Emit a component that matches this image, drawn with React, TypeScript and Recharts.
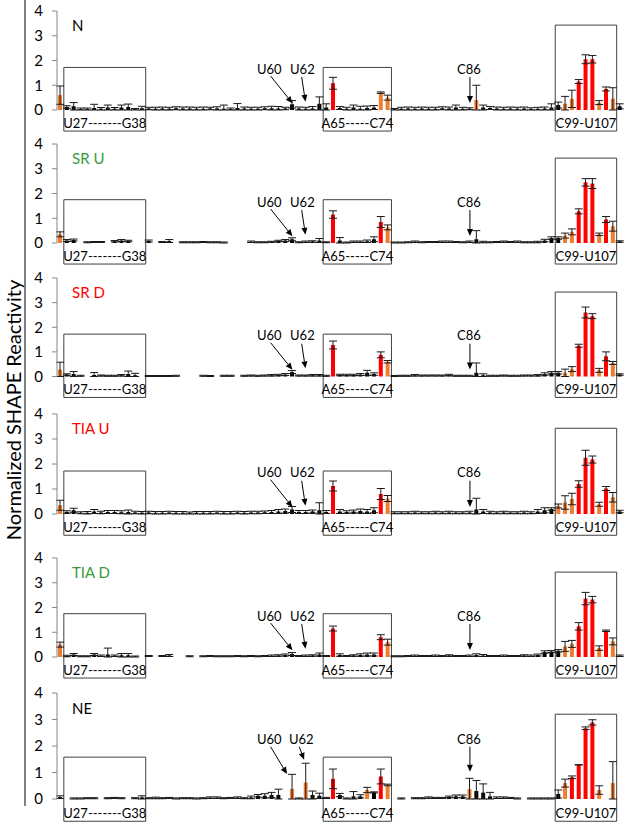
import React from "react";
import {
  BarChart,
  Bar,
  XAxis,
  YAxis,
  ErrorBar,
  Cell,
  ReferenceArea,
  ReferenceLine,
  ReferenceDot,
} from "recharts";

// nucleotide positions 26..108
const positions = Array.from({ length: 83 }, (_, i) => 26 + i);
const yTicks = [0, 1, 2, 3, 4];

// N
const nVals = [
  0.6, 0.12, 0.15, 0.04, 0.04, 0.08, 0.05, 0.1, 0.05, 0.1,
  0.12, 0.03, 0.07, 0.06, 0.05, 0.06, 0.05, 0.07, 0.06, 0.06,
  0.05, 0.05, 0.06, 0.06, 0.05, 0.04, 0.08, 0.06, 0.05, 0.05,
  0.07, 0.07, 0.06, 0.06, 0.23, 0.06, 0.05, 0.06, 0.25, 0.1,
  1.08, 0.08, 0.05, 0.1, 0.05, 0.08, 0.1, 0.7, 0.5, 0.03,
  0.05, 0.06, 0.05, 0.06, 0.05, 0.05, 0.07, 0.06, 0.1, 0.05,
  0.05, 0.4, 0.1, 0.08, 0.06, 0.05, 0.06, 0.05, 0.06, 0.04,
  0.05, 0.06, 0.1, 0.2, 0.25, 0.45, 1.15, 2.05, 2.05, 0.3,
  0.85, 0.45, 0.15,
];
const nErr = [
  0.37, 0.05, 0.15, 0.04, 0.04, 0.15, 0.05, 0.1, 0.05, 0.1,
  0.12, 0.03, 0.08, 0.05, 0.06, 0.06, 0.06, 0.06, 0.06, 0.06,
  0.06, 0.07, 0.05, 0.07, 0.15, 0.04, 0.18, 0.06, 0.06, 0.06,
  0.06, 0.08, 0.08, 0.05, 0.15, 0.06, 0.06, 0.08, 0.28, 0.15,
  0.24, 0.06, 0.06, 0.1, 0.1, 0.08, 0.08, 0.03, 0.1, 0.03,
  0.06, 0.06, 0.06, 0.06, 0.06, 0.06, 0.06, 0.06, 0.1, 0.06,
  0.04, 0.6, 0.1, 0.06, 0.06, 0.06, 0.06, 0.06, 0.06, 0.05,
  0.06, 0.06, 0.15, 0.12, 0.3, 0.35, 0.08, 0.18, 0.15, 0.08,
  0.08, 0.45, 0.1,
];
const nMid = [26, 73, 74, 87, 100, 101, 105, 107];
const nHigh = [66, 102, 103, 104, 106];

// SR U
const sruVals = [
  0.35, 0.1, 0.12, 0.0, 0.03, 0.04, 0.04, 0.0, 0.07, 0.1,
  0.08, 0.0, 0.0, 0.08, 0.0, 0.04, 0.08, 0.0, 0.03, 0.03,
  0.03, 0.04, 0.03, 0.03, 0.02, 0.0, 0.0, 0.0, 0.05, 0.03,
  0.03, 0.05, 0.08, 0.1, 0.15, 0.03, 0.05, 0.06, 0.1, 0.03,
  1.15, 0.1, 0.02, 0.05, 0.05, 0.07, 0.15, 0.85, 0.63, 0.02,
  0.02, 0.03, 0.05, 0.03, 0.04, 0.04, 0.05, 0.05, 0.04, 0.03,
  0.05, 0.15, 0.04, 0.03, 0.04, 0.05, 0.04, 0.05, 0.03, 0.03,
  0.04, 0.1, 0.2, 0.2, 0.3, 0.45, 1.28, 2.45, 2.4, 0.35,
  0.95, 0.68, 0.06,
];
const sruErr = [
  0.1, 0.04, 0.04, 0.0, 0.02, 0.02, 0.02, 0.0, 0.03, 0.04,
  0.03, 0.0, 0.0, 0.04, 0.0, 0.02, 0.06, 0.0, 0.02, 0.02,
  0.02, 0.02, 0.02, 0.02, 0.02, 0.0, 0.0, 0.0, 0.03, 0.02,
  0.02, 0.02, 0.03, 0.04, 0.06, 0.02, 0.03, 0.03, 0.08, 0.02,
  0.15, 0.12, 0.02, 0.03, 0.03, 0.05, 0.1, 0.22, 0.1, 0.02,
  0.02, 0.02, 0.03, 0.02, 0.02, 0.02, 0.03, 0.03, 0.02, 0.02,
  0.03, 0.35, 0.03, 0.02, 0.02, 0.03, 0.02, 0.03, 0.02, 0.02,
  0.03, 0.05, 0.05, 0.05, 0.1, 0.12, 0.1, 0.15, 0.2, 0.05,
  0.12, 0.2, 0.03,
];
const sruMid = [26, 74, 100, 101, 105, 107];
const sruHigh = [66, 73, 102, 103, 104, 106];

// SR D
const srdVals = [
  0.28, 0.08, 0.1, 0.03, 0.0, 0.06, 0.04, 0.03, 0.03, 0.05,
  0.1, 0.05, 0.0, 0.02, 0.02, 0.02, 0.02, 0.03, 0.0, 0.0,
  0.0, 0.03, 0.02, 0.0, 0.03, 0.03, 0.0, 0.03, 0.04, 0.03,
  0.04, 0.05, 0.06, 0.08, 0.18, 0.04, 0.04, 0.05, 0.05, 0.03,
  1.28, 0.06, 0.06, 0.06, 0.08, 0.15, 0.1, 0.88, 0.6, 0.02,
  0.03, 0.03, 0.05, 0.04, 0.04, 0.04, 0.04, 0.06, 0.03, 0.03,
  0.03, 0.15, 0.05, 0.03, 0.03, 0.04, 0.03, 0.03, 0.04, 0.04,
  0.05, 0.1, 0.15, 0.15, 0.15, 0.3, 1.25, 2.6, 2.45, 0.25,
  0.82, 0.55, 0.08,
];
const srdErr = [
  0.3, 0.03, 0.1, 0.02, 0.0, 0.1, 0.02, 0.02, 0.02, 0.03,
  0.12, 0.08, 0.0, 0.02, 0.02, 0.02, 0.02, 0.02, 0.0, 0.0,
  0.0, 0.02, 0.02, 0.0, 0.02, 0.02, 0.0, 0.02, 0.02, 0.02,
  0.02, 0.03, 0.03, 0.04, 0.06, 0.02, 0.02, 0.03, 0.03, 0.02,
  0.16, 0.03, 0.03, 0.03, 0.04, 0.1, 0.05, 0.12, 0.05, 0.02,
  0.02, 0.02, 0.03, 0.02, 0.02, 0.02, 0.02, 0.03, 0.02, 0.02,
  0.02, 0.4, 0.06, 0.02, 0.02, 0.02, 0.02, 0.02, 0.02, 0.02,
  0.03, 0.05, 0.05, 0.05, 0.15, 0.1, 0.06, 0.22, 0.1, 0.08,
  0.18, 0.06, 0.03,
];
const srdMid = [26, 74, 100, 101, 105, 107];
const srdHigh = [66, 73, 102, 103, 104, 106];

// TIA U
const tiauVals = [
  0.35, 0.08, 0.15, 0.05, 0.05, 0.1, 0.06, 0.08, 0.08, 0.07,
  0.08, 0.06, 0.05, 0.06, 0.05, 0.05, 0.06, 0.05, 0.05, 0.04,
  0.05, 0.05, 0.05, 0.06, 0.05, 0.05, 0.06, 0.05, 0.06, 0.06,
  0.07, 0.08, 0.1, 0.12, 0.18, 0.08, 0.08, 0.1, 0.15, 0.08,
  1.12, 0.1, 0.08, 0.1, 0.12, 0.1, 0.15, 0.8, 0.62, 0.05,
  0.05, 0.05, 0.06, 0.05, 0.05, 0.06, 0.05, 0.06, 0.05, 0.05,
  0.06, 0.18, 0.1, 0.06, 0.05, 0.06, 0.05, 0.05, 0.06, 0.05,
  0.1, 0.15, 0.2, 0.32, 0.46, 0.6, 1.2, 2.25, 2.18, 0.39,
  1.02, 0.67, 0.1,
];
const tiauErr = [
  0.2, 0.05, 0.08, 0.04, 0.05, 0.08, 0.05, 0.06, 0.06, 0.06,
  0.08, 0.05, 0.05, 0.05, 0.05, 0.05, 0.05, 0.05, 0.05, 0.04,
  0.05, 0.05, 0.05, 0.05, 0.05, 0.05, 0.05, 0.05, 0.05, 0.05,
  0.05, 0.06, 0.08, 0.08, 0.12, 0.06, 0.06, 0.06, 0.3, 0.06,
  0.2, 0.08, 0.05, 0.06, 0.08, 0.08, 0.1, 0.22, 0.12, 0.04,
  0.04, 0.04, 0.05, 0.04, 0.04, 0.05, 0.04, 0.05, 0.04, 0.04,
  0.05, 0.45, 0.08, 0.05, 0.04, 0.05, 0.04, 0.04, 0.05, 0.04,
  0.08, 0.1, 0.05, 0.08, 0.27, 0.23, 0.13, 0.3, 0.14, 0.08,
  0.08, 0.19, 0.05,
];
const tiauMid = [26, 74, 99, 100, 101, 105, 107];
const tiauHigh = [66, 73, 102, 103, 104, 106];

// TIA D
const tiadVals = [
  0.5, 0.04, 0.1, 0.03, 0.03, 0.1, 0.05, 0.1, 0.05, 0.07,
  0.07, 0.02, 0.0, 0.04, 0.0, 0.04, 0.06, 0.0, 0.0, 0.03,
  0.0, 0.03, 0.04, 0.03, 0.03, 0.03, 0.04, 0.03, 0.04, 0.03,
  0.04, 0.05, 0.06, 0.08, 0.12, 0.04, 0.05, 0.06, 0.1, 0.04,
  1.15, 0.08, 0.04, 0.06, 0.08, 0.1, 0.1, 0.8, 0.6, 0.03,
  0.03, 0.04, 0.05, 0.04, 0.04, 0.05, 0.04, 0.06, 0.04, 0.04,
  0.05, 0.08, 0.06, 0.04, 0.04, 0.05, 0.04, 0.04, 0.06, 0.05,
  0.08, 0.2, 0.22, 0.25, 0.43, 0.53, 1.24, 2.36, 2.32, 0.36,
  1.06, 0.63, 0.05,
];
const tiadErr = [
  0.1, 0.03, 0.04, 0.02, 0.02, 0.04, 0.03, 0.26, 0.03, 0.07,
  0.07, 0.02, 0.0, 0.02, 0.0, 0.02, 0.04, 0.0, 0.0, 0.02,
  0.0, 0.02, 0.02, 0.02, 0.02, 0.02, 0.02, 0.02, 0.02, 0.02,
  0.02, 0.03, 0.03, 0.04, 0.06, 0.02, 0.03, 0.03, 0.06, 0.02,
  0.1, 0.05, 0.02, 0.03, 0.05, 0.06, 0.06, 0.1, 0.12, 0.02,
  0.02, 0.02, 0.03, 0.02, 0.02, 0.03, 0.02, 0.03, 0.02, 0.02,
  0.03, 0.05, 0.04, 0.02, 0.02, 0.03, 0.02, 0.02, 0.03, 0.03,
  0.04, 0.05, 0.04, 0.05, 0.2, 0.14, 0.15, 0.25, 0.13, 0.09,
  0.03, 0.14, 0.03,
];
const tiadMid = [26, 74, 100, 101, 105, 107];
const tiadHigh = [66, 73, 102, 103, 104, 106];

// NE
const neVals = [
  0.07, 0.0, 0.02, 0.02, 0.03, 0.03, 0.0, 0.03, 0.04, 0.03,
  0.0, 0.03, 0.06, 0.03, 0.04, 0.03, 0.04, 0.02, 0.03, 0.03,
  0.02, 0.03, 0.05, 0.05, 0.03, 0.04, 0.05, 0.03, 0.06, 0.12,
  0.12, 0.15, 0.15, 0.0, 0.38, 0.02, 0.62, 0.15, 0.12, 0.04,
  0.76, 0.15, 0.02, 0.1, 0.1, 0.34, 0.25, 0.85, 0.53, 0.0,
  0.02, 0.0, 0.03, 0.03, 0.05, 0.04, 0.04, 0.08, 0.1, 0.1,
  0.37, 0.3, 0.24, 0.1, 0.05, 0.05, 0.04, 0.02, 0.0, 0.02,
  0.02, 0.02, 0.02, 0.19, 0.6, 0.82, 1.29, 2.67, 2.89, 0.34,
  0.0, 0.6, 0.0,
];
const neErr = [
  0.05, 0.0, 0.02, 0.02, 0.02, 0.02, 0.0, 0.02, 0.02, 0.02,
  0.0, 0.02, 0.06, 0.02, 0.03, 0.02, 0.02, 0.02, 0.02, 0.02,
  0.02, 0.02, 0.03, 0.03, 0.02, 0.02, 0.03, 0.02, 0.05, 0.05,
  0.08, 0.1, 0.22, 0.0, 0.55, 0.02, 0.73, 0.15, 0.1, 0.02,
  0.37, 0.06, 0.02, 0.18, 0.06, 0.1, 0.02, 0.28, 0.03, 0.0,
  0.02, 0.0, 0.02, 0.02, 0.03, 0.02, 0.02, 0.03, 0.05, 0.05,
  0.41, 0.4, 0.33, 0.15, 0.03, 0.03, 0.02, 0.02, 0.0, 0.02,
  0.02, 0.02, 0.02, 0.15, 0.15, 0.05, 0.0, 0.05, 0.1, 0.16,
  0.0, 0.81, 0.0,
];
const neMid = [60, 62, 71, 74, 86, 100, 105, 107];
const neHigh = [66, 73, 101, 102, 103, 104];

const FONT = "Lato, 'Open Sans', sans-serif";
const BLACK = "#000000";
const ORANGE = "#ED7D31";
const RED = "#FF0000";
const GREEN = "#3A9A3A";
const AXIS = "#868686";

type Note = { text: string; tx: number; ty: number; from: [number, number]; to: [number, number] };

const notesStd: Note[] = [
  { text: "U60", tx: 56.6, ty: 1.47, from: [56.8, 1.37], to: [60.0, 0.27] },
  { text: "U62", tx: 61.45, ty: 1.47, from: [61.35, 1.33], to: [61.9, 0.33] },
  { text: "C86", tx: 85.86, ty: 1.47, from: [86.0, 1.33], to: [86.0, 0.28] },
];
const notesNE: Note[] = [
  { text: "U60", tx: 56.6, ty: 2.08, from: [56.8, 1.97], to: [59.2, 0.94] },
  { text: "U62", tx: 61.3, ty: 2.08, from: [61.0, 1.97], to: [61.7, 1.48] },
  { text: "C86", tx: 85.86, ty: 2.08, from: [86.0, 1.97], to: [86.0, 1.03] },
];

type Panel = {
  name: string;
  color: string;
  values: number[];
  errors: number[];
  mid: number[];
  high: number[];
  top: number;
  bottom: number;
  axisColor: string;
  boxes: [number, number, number]; // bottom, short top, tall top (value units)
  notes: Note[];
};

const panels: Panel[] = [
  { name: "N", color: BLACK, values: nVals, errors: nErr, mid: nMid, high: nHigh, top: 11, bottom: 110, axisColor: AXIS, boxes: [-0.85, 1.72, 3.43], notes: notesStd },
  { name: "SR U", color: GREEN, values: sruVals, errors: sruErr, mid: sruMid, high: sruHigh, top: 144, bottom: 243, axisColor: "#2E4A8B", boxes: [-0.85, 1.75, 3.43], notes: notesStd },
  { name: "SR D", color: RED, values: srdVals, errors: srdErr, mid: srdMid, high: srdHigh, top: 277.5, bottom: 376, axisColor: AXIS, boxes: [-0.85, 1.72, 3.43], notes: notesStd },
  { name: "TIA U", color: RED, values: tiauVals, errors: tiauErr, mid: tiauMid, high: tiauHigh, top: 414, bottom: 514, axisColor: AXIS, boxes: [-0.85, 1.72, 3.43], notes: notesStd },
  { name: "TIA D", color: GREEN, values: tiadVals, errors: tiadErr, mid: tiadMid, high: tiadHigh, top: 558, bottom: 657, axisColor: AXIS, boxes: [-0.85, 1.75, 3.43], notes: notesStd },
  { name: "NE", color: BLACK, values: neVals, errors: neErr, mid: neMid, high: neHigh, top: 693, bottom: 799, axisColor: AXIS, boxes: [-0.84, 1.58, 3.2], notes: notesNE },
];

const boxLabels: [string, string, string, boolean][] = [
  ["27", "38", "U27-------G38", false],
  ["65", "74", "A65-----C74", false],
  ["99", "107", "C99-U107", true],
];

const edgeTicks = [...positions.map((p) => p - 0.5), 108.5];

function Arrow(props: any) {
  const { x1, y1, x2, y2 } = props;
  const ang = Math.atan2(y2 - y1, x2 - x1);
  const L = 7;
  const W = 3;
  const bx = x2 - L * Math.cos(ang);
  const by = y2 - L * Math.sin(ang);
  const px = -Math.sin(ang) * W;
  const py = Math.cos(ang) * W;
  return (
    <g>
      <line x1={x1} y1={y1} x2={bx} y2={by} stroke="#000" strokeWidth={1} />
      <polygon points={`${x2},${y2} ${bx + px},${by + py} ${bx - px},${by - py}`} fill="#000" />
    </g>
  );
}

const MT = 14;
const XH = 6;
const MB = 20;

function PanelChart({ p }: { p: Panel }) {
  const data = positions.map((pos, i) => {
    const v = p.values[i];
    const e = p.errors[i];
    const level = p.high.includes(pos) ? 2 : p.mid.includes(pos) ? 1 : 0;
    return { pos: String(pos), num: pos, v, e: [Math.min(e, v), e], level };
  });
  const plotH = p.bottom - p.top;
  const height = MT + plotH + XH + MB;
  const fills = [BLACK, ORANGE, RED];
  return (
    <div style={{ position: "absolute", left: 0, top: p.top - MT }}>
      <BarChart
        width={625}
        height={height}
        data={data}
        margin={{ top: MT, right: 1.5, bottom: MB, left: 0 }}
        barSize={4}
      >
        <XAxis xAxisId="cat" dataKey="pos" type="category" hide />
        <XAxis
          xAxisId="num"
          dataKey="num"
          type="number"
          domain={[25.5, 108.5]}
          allowDataOverflow
          ticks={edgeTicks}
          interval={0}
          tick={false}
          tickSize={4}
          height={XH}
          axisLine={{ stroke: p.axisColor }}
          tickLine={{ stroke: p.axisColor }}
        />
        <YAxis
          domain={[0, 4]}
          ticks={yTicks}
          interval={0}
          width={57}
          tickSize={5}
          tickMargin={9}
          axisLine={{ stroke: AXIS }}
          tickLine={{ stroke: AXIS }}
          tick={{ fill: "#000", fontSize: 15, fontFamily: FONT }}
        />
        {boxLabels.map(([a, b, label, tall]) => (
          <ReferenceArea
            key={label}
            xAxisId="cat"
            x1={a}
            x2={b}
            y1={p.boxes[0]}
            y2={tall ? p.boxes[2] : p.boxes[1]}
            ifOverflow="visible"
            fill="none"
            fillOpacity={0}
            stroke="#404040"
            strokeWidth={1}
            label={{ value: label, position: "insideBottom", offset: 3, fill: "#000", fontSize: 13, fontFamily: FONT }}
          />
        ))}
        <Bar xAxisId="cat" dataKey="v" isAnimationActive={false}>
          {data.map((d) => (
            <Cell key={d.pos} fill={fills[d.level]} />
          ))}
          <ErrorBar dataKey="e" width={4} stroke="#1a1a1a" strokeWidth={1} direction="y" />
        </Bar>
        {p.notes.map((n) => (
          <ReferenceLine
            key={n.text}
            xAxisId="num"
            segment={[
              { x: n.from[0], y: n.from[1] },
              { x: n.to[0], y: n.to[1] },
            ]}
            shape={Arrow}
          />
        ))}
        {p.notes.map((n) => (
          <ReferenceDot
            key={"t" + n.text}
            xAxisId="num"
            x={n.tx}
            y={n.ty}
            r={0}
            shape={(s: any) => (
              <text x={s.cx} y={s.cy} textAnchor="middle" fontSize={13} fontFamily={FONT} fill="#000">
                {n.text}
              </text>
            )}
          />
        ))}
        <ReferenceDot
          xAxisId="num"
          x={27.7}
          y={3.19}
          r={0}
          shape={(s: any) => (
            <text x={s.cx} y={s.cy} textAnchor="start" fontSize={15} fontFamily={FONT} fill={p.color}>
              {p.name}
            </text>
          )}
        />
      </BarChart>
    </div>
  );
}

export default function App() {
  return (
    <div
      style={{
        position: "absolute",
        left: 0,
        top: 0,
        width: 625,
        height: 822,
        overflow: "hidden",
        background: "#fff",
        fontFamily: FONT,
      }}
    >
      <svg width={40} height={822} style={{ position: "absolute", left: 0, top: 0 }}>
        <line x1={25} y1={0} x2={25} y2={806} stroke="#000" strokeWidth={1} />
        <text
          x={0}
          y={0}
          transform="translate(20.5,410) rotate(-90)"
          textAnchor="middle"
          fontSize={20}
          fontFamily={FONT}
          fill="#000"
        >
          Normalized SHAPE Reactivity
        </text>
      </svg>
      {panels.map((p) => (
        <PanelChart key={p.name} p={p} />
      ))}
    </div>
  );
}
